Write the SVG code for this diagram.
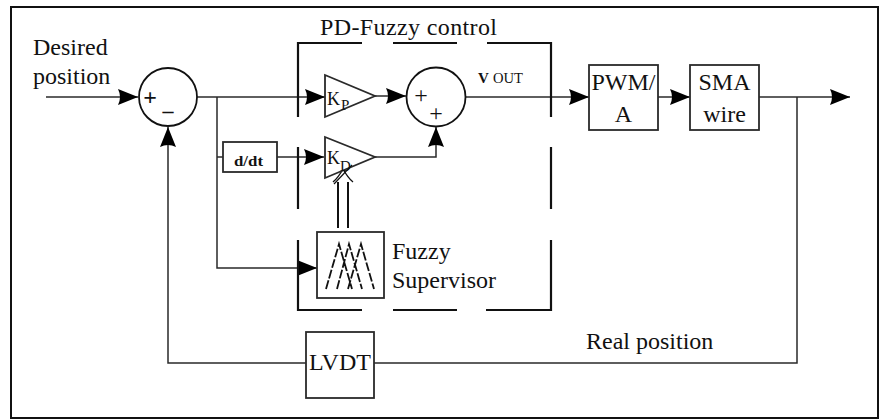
<svg xmlns="http://www.w3.org/2000/svg" width="880" height="419" viewBox="0 0 880 419">
<style>
text{font-family:"Liberation Serif","Times New Roman",serif;fill:#111}
.ln{fill:none;stroke:#2a2a2a;stroke-width:1.5}
.bx{fill:#fff;stroke:#2a2a2a;stroke-width:1.8}
.dash{fill:none;stroke:#111;stroke-width:2.2}
.big{font-size:24px}
</style>
<defs>
<marker id="ah" markerUnits="userSpaceOnUse" markerWidth="21" markerHeight="17" refX="20" refY="8" orient="auto">
<path d="M0,0 Q4,8 0,16 L20,8 Z" fill="#000"/>
</marker>
</defs>
<rect x="11" y="7" width="867" height="411" fill="#fff" stroke="#111" stroke-width="2"/>

<g id="connectors">
<path class="ln" d="M46,97 L138,97" marker-end="url(#ah)"/>
<path class="ln" d="M197,97 L325,97" marker-end="url(#ah)"/>
<path class="ln" d="M217,97 L217,268 L317,268" marker-end="url(#ah)"/>
<path class="ln" d="M217,157 L223,157"/>
<path class="ln" d="M277,157 L324,157" marker-end="url(#ah)"/>
<path class="ln" d="M375,96 L406,96" marker-end="url(#ah)"/>
<path class="ln" d="M375,157 L436,157 L436,127" marker-end="url(#ah)"/>
<path class="ln" d="M466,97 L589,97" marker-end="url(#ah)"/>
<path class="ln" d="M658,97 L690,97" marker-end="url(#ah)"/>
<path class="ln" d="M759,97 L850,97" marker-end="url(#ah)"/>
<path class="ln" d="M797,97 L797,363 L168,363 L168,127" marker-end="url(#ah)"/>
<path fill="none" stroke="#111" stroke-width="2" d="M338,228 L338,182 M348,228 L348,182"/>
<path fill="none" stroke="#111" stroke-width="1.4" d="M333,182 Q338,178 343,169 Q348,178 353,182"/>
</g>

<g id="pd-fuzzy-control">
<path class="dash" d="M298,117 L298,43 L362,43 M393,43 L457,43 M487,43 L551,43 L551,117 M551,147 L551,209 M551,240 L551,310 L486,310 M457,310 L393,310 M362,310 L298,310 L298,240 M298,209 L298,147"/>
<text class="big" x="320" y="35" textLength="177" lengthAdjust="spacing">PD-Fuzzy control</text>
</g>

<g id="desired-position">
<text class="big" x="33" y="55">Desired</text>
<text class="big" x="33" y="84">position</text>
</g>

<g id="sum1">
<circle cx="168" cy="97" r="29" fill="#fff" stroke="#111" stroke-width="1.8"/>
<text x="150" y="105" font-size="24" text-anchor="middle" font-family="Liberation Sans,Arial,sans-serif" font-weight="bold">+</text>
<text x="168" y="118" font-size="22" text-anchor="middle" font-family="Liberation Sans,Arial,sans-serif" font-weight="bold">–</text>
</g>

<g id="ddt">
<rect class="bx" x="223" y="142" width="54" height="30"/>
<text x="234" y="166" font-size="14" font-weight="bold" textLength="29" lengthAdjust="spacingAndGlyphs">d/dt</text>
</g>

<g id="kp">
<path class="bx" d="M325,75 L375,96 L325,117 Z"/>
<text x="327" y="105" font-size="18">K</text>
<text x="341" y="110" font-size="15">P</text>
</g>

<g id="kd">
<path class="bx" d="M325,137 L375,157 L325,178 Z"/>
<text x="327" y="164" font-size="18">K</text>
<text x="340" y="171" font-size="15">D</text>
<path d="M334,184 L352,165" stroke="#111" stroke-width="1.2"/>
</g>

<g id="sum2">
<circle cx="436" cy="97" r="29.5" fill="#fff" stroke="#111" stroke-width="1.8"/>
<text x="421" y="103" font-size="24" text-anchor="middle">+</text>
<text x="436" y="121" font-size="24" text-anchor="middle">+</text>
</g>

<g id="vout">
<text x="478" y="83" font-size="15" font-weight="bold">V</text>
<text x="493" y="83" font-size="15" textLength="30" lengthAdjust="spacingAndGlyphs">OUT</text>
</g>

<g id="fuzzy-supervisor">
<rect class="bx" x="317" y="232" width="67" height="66" stroke-width="2.2"/>
<path fill="none" stroke="#111" stroke-width="1.8" stroke-dasharray="9,2" d="M326,289 L339,244 L352,289 M337,289 L349,244 L362,289 M348,289 L361,244 L374,289"/>
<text class="big" x="392" y="259">Fuzzy</text>
<text class="big" x="392" y="288">Supervisor</text>
</g>

<g id="pwm">
<rect class="bx" x="589" y="65" width="69" height="65"/>
<text class="big" x="623.5" y="90" text-anchor="middle">PWM/</text>
<text class="big" x="623.5" y="122" text-anchor="middle">A</text>
</g>

<g id="sma">
<rect class="bx" x="690" y="65" width="69" height="65"/>
<text class="big" x="724.5" y="90" text-anchor="middle">SMA</text>
<text class="big" x="724.5" y="122" text-anchor="middle">wire</text>
</g>

<g id="lvdt">
<rect class="bx" x="306" y="332" width="68" height="66"/>
<text class="big" x="340" y="370" text-anchor="middle">LVDT</text>
</g>

<g id="real-position">
<text class="big" x="586" y="349">Real position</text>
</g>
</svg>
